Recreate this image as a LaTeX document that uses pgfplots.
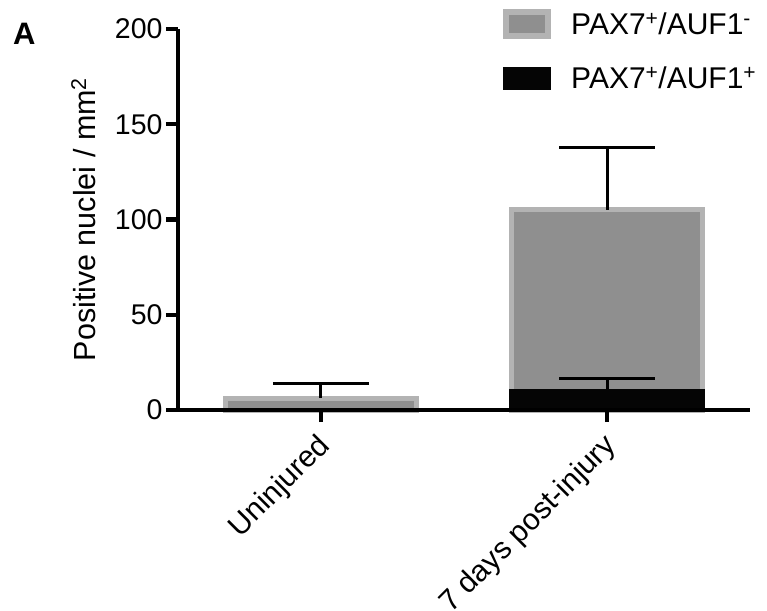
\documentclass[border=0pt]{standalone}
\usepackage{pgfplots}
\pgfplotsset{compat=1.18}
\usepackage{fontspec}
\setmainfont{Liberation Sans}
\definecolor{barfill}{HTML}{8F8F8F}
\definecolor{barline}{HTML}{B3B3B3}
\definecolor{blk}{HTML}{050505}
\begin{document}
\begin{tikzpicture}
\useasboundingbox (-178bp,-201bp) rectangle (589bp,410bp);
\begin{axis}[
  at={(0,0)}, anchor=south west,
  scale only axis, width=572bp, height=381bp,
  xmin=-0.5, xmax=1.5, ymin=0, ymax=200,
  axis x line*=bottom, axis y line*=left,
  axis line style={line width=4.5bp, black, -},
  axis on top=true,
  clip=false,
  xtick={0,1}, xticklabels={Uninjured, 7 days post-injury},
  ytick={0,50,100,150,200},
  tick align=outside, major tick length=12bp,
  tick style={line width=4.5bp, black},
  x tick label style={rotate=45, anchor=north east, xshift=-7bp, font=\fontsize{30bp}{34bp}\selectfont},
  y tick label style={font=\fontsize{28.5bp}{32bp}\selectfont},
  /pgf/number format/assume math mode=true,
  ylabel={Positive nuclei / mm\textsuperscript{2}},
  ylabel style={font=\fontsize{30.5bp}{34bp}\selectfont, at={(axis description cs:-0.138,0.5)}, anchor=south},
  legend style={draw=none, fill=none, at={(rel axis cs:0.563,1.057)}, anchor=north west,
    font=\fontsize{30bp}{34bp}\selectfont, row sep=27bp,
    nodes={inner sep=0pt},
    /tikz/every odd column/.style={column sep=20bp}},
  legend cell align=left,
]
\addplot[ybar, bar width=0.666, bar shift=0pt, fill=barfill, draw=barline, line width=5bp,
  forget plot,
  error bars/.cd, y dir=plus, y explicit,
  error bar style={line width=3bp, black},
  error mark options={rotate=90, mark size=48bp, line width=3bp, black}]
  coordinates {(0,6.3) +- (0,7.7) (1,105) +- (0,33)};
\addplot[ybar, bar width=0.683, bar shift=0pt, fill=blk, draw=blk, line width=1bp,
  forget plot,
  error bars/.cd, y dir=plus, y explicit,
  error bar style={line width=3bp, black},
  error mark options={rotate=90, mark size=48bp, line width=3bp, black}]
  coordinates {(0,0) +- (0,0) (1,11) +- (0,5.3)};
\addlegendimage{legend image code/.code={\draw[fill=barfill, draw=barline, line width=6bp] (3bp,-12bp) rectangle (45bp,12bp);}}
\addlegendentry{PAX7\textsuperscript{+}/AUF1\textsuperscript{-}}
\addlegendimage{legend image code/.code={\draw[fill=blk, draw=blk, line width=1bp] (0.5bp,-11bp) rectangle (47.5bp,11bp);}}
\addlegendentry{PAX7\textsuperscript{+}/AUF1\textsuperscript{+}}
\end{axis}
\node[anchor=base west, inner sep=0pt, font=\bfseries\fontsize{31bp}{34bp}\selectfont] at (-165bp,365bp) {A};
\end{tikzpicture}
\end{document}
